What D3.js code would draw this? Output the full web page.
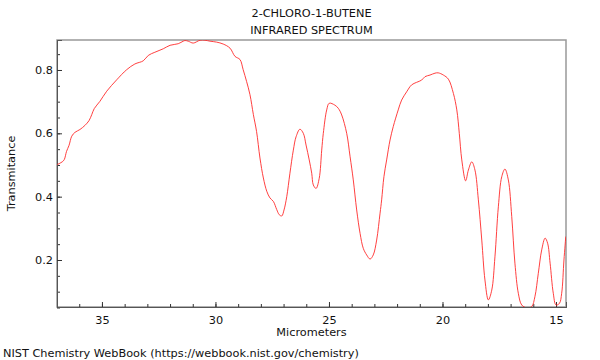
<!DOCTYPE html>
<html><head><meta charset="utf-8">
<script src="https://cdn.jsdelivr.net/npm/d3@7"></script>
<style>body{margin:0;background:#fff}svg{display:block}text{font-family:"DejaVu Sans",sans-serif}</style>
</head><body>
<svg id="c" width="600" height="360"></svg>
<script>
const titleLines = ["2-CHLORO-1-BUTENE", "INFRARED SPECTRUM"];
const xLabel = "Micrometers";
const yLabel = "Transmitance";
const footer = "NIST Chemistry WebBook (https://webbook.nist.gov/chemistry)";
const xTicks = [35, 30, 25, 20, 15];
const yTicks = [0.2, 0.4, 0.6, 0.8];
const micrometers = [36.98,36.75,36.66,36.56,36.45,36.33,36.19,35.97,35.75,35.57,35.45,35.34,35.09,34.79,34.35,33.91,33.55,33.18,32.96,32.67,32.30,32.00,31.64,31.42,31.34,31.20,30.98,30.68,30.46,30.24,29.95,29.66,29.36,29.14,28.92,28.78,28.63,28.48,28.33,28.19,28.04,27.89,27.74,27.60,27.45,27.30,27.19,27.08,26.98,26.86,26.72,26.57,26.45,26.28,26.13,26.01,25.87,25.76,25.69,25.57,25.43,25.32,25.25,25.10,24.99,24.74,24.59,24.44,24.22,24.07,23.93,23.78,23.63,23.49,23.34,23.19,23.05,22.90,22.75,22.68,22.58,22.46,22.31,22.17,21.95,21.80,21.58,21.36,21.14,20.92,20.77,20.55,20.33,20.19,19.96,19.74,19.52,19.37,19.26,19.15,18.98,18.86,18.71,18.57,18.42,18.27,18.13,17.98,17.83,17.69,17.54,17.39,17.25,17.10,16.95,16.81,16.66,16.51,16.29,16.07,15.93,15.78,15.63,15.48,15.37,15.26,15.12,15.00,14.85,14.75,14.65,14.57];
const transmittance = [0.501,0.510,0.517,0.543,0.562,0.591,0.603,0.612,0.625,0.640,0.659,0.678,0.701,0.733,0.769,0.801,0.819,0.829,0.846,0.856,0.867,0.878,0.883,0.891,0.893,0.891,0.885,0.894,0.894,0.891,0.888,0.882,0.869,0.843,0.833,0.801,0.764,0.722,0.659,0.606,0.522,0.459,0.417,0.396,0.385,0.359,0.343,0.339,0.358,0.400,0.474,0.547,0.589,0.613,0.600,0.563,0.516,0.474,0.437,0.426,0.458,0.547,0.600,0.674,0.695,0.689,0.679,0.658,0.600,0.526,0.453,0.358,0.284,0.237,0.216,0.203,0.216,0.263,0.348,0.390,0.463,0.516,0.579,0.621,0.674,0.705,0.731,0.753,0.761,0.768,0.779,0.784,0.790,0.791,0.784,0.771,0.726,0.674,0.600,0.516,0.450,0.484,0.510,0.484,0.390,0.263,0.137,0.074,0.105,0.210,0.368,0.463,0.487,0.453,0.337,0.190,0.095,0.058,0.049,0.053,0.084,0.158,0.232,0.269,0.253,0.190,0.095,0.058,0.063,0.095,0.200,0.274];

const FS = 11.3;
const data = micrometers.map((m, i) => ({m, t: transmittance[i]}));
const L = 57, R = 566, T = 40, B = 307;
const svg = d3.select("#c");
const x = d3.scaleLinear().domain([36.98, 14.56]).range([L, R]);
const y = d3.scaleLinear().domain([0.0516, 0.8947]).range([B, T]);

svg.append("defs").append("clipPath").attr("id","clip").append("rect")
  .attr("x", L).attr("y", T).attr("width", R-L).attr("height", B-T);

svg.append("rect").attr("x", L).attr("y", T).attr("width", R-L).attr("height", B-T)
  .attr("fill","none").attr("stroke","#999").attr("stroke-width",1.5);

const minorX = d3.range(15, 37, 1);
const minorY = d3.range(0.05, 0.9, 0.05).map(v => +v.toFixed(2));

const xAxisMinor = d3.axisTop(x).tickValues(minorX).tickSize(3).tickFormat("");
const xAxis = d3.axisTop(x).tickValues(xTicks).tickSize(5).tickFormat(d3.format("d"));
const yAxisMinor = d3.axisRight(y).tickValues(minorY).tickSize(3).tickFormat("");
const yAxis = d3.axisRight(y).tickValues(yTicks).tickSize(5).tickFormat(d3.format(".1f"));

function styleAx(g){ g.select(".domain").attr("stroke","#555"); g.selectAll(".tick line").attr("stroke","#333"); }
svg.append("g").attr("transform",`translate(0,${B})`).call(xAxisMinor).call(styleAx);
const gx = svg.append("g").attr("transform",`translate(0,${B})`).call(xAxis).call(styleAx);
gx.selectAll(".tick text").attr("y", 17).attr("dy","0").attr("font-size",FS).attr("fill","#111").attr("font-family","DejaVu Sans");
svg.append("g").attr("transform",`translate(${L},0)`).call(yAxisMinor).call(styleAx);
const gy = svg.append("g").attr("transform",`translate(${L},0)`).call(yAxis).call(styleAx);
gy.selectAll(".tick text").attr("x", -4).attr("text-anchor","end").attr("font-size",FS).attr("fill","#111").attr("font-family","DejaVu Sans");

const line = d3.line().x(d => x(d.m)).y(d => y(d.t)).curve(d3.curveCatmullRom.alpha(0.5));
svg.append("path").datum(data).attr("clip-path","url(#clip)")
  .attr("d", line).attr("fill","none").attr("stroke","#ff2a2a").attr("stroke-width",0.9);

svg.selectAll(".title").data(titleLines).enter().append("text")
  .attr("x", (L+R)/2).attr("y", (d,i) => 16.5 + i*17).attr("text-anchor","middle")
  .attr("font-size",FS).attr("fill","#111").text(d => d);
svg.append("text").attr("x",(L+R)/2).attr("y",336).attr("text-anchor","middle")
  .attr("font-size",FS).attr("fill","#111").text(xLabel);
svg.append("text").attr("transform",`translate(15,${(T+B)/2}) rotate(-90)`).attr("text-anchor","middle")
  .attr("font-size",FS).attr("fill","#111").text(yLabel);
svg.append("text").attr("x",3).attr("y",356.5).attr("font-size",FS).attr("fill","#111").text(footer);
</script>
</body></html>
